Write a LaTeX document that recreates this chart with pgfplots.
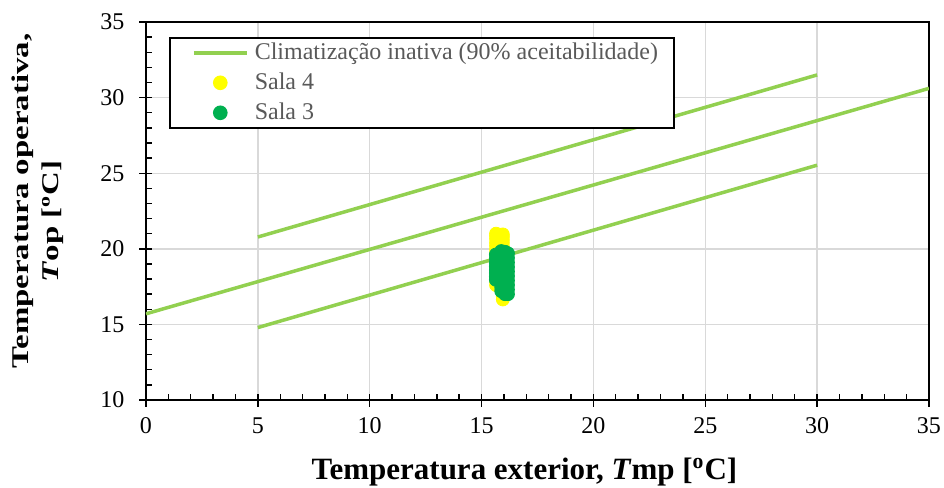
\documentclass[border=0pt]{standalone}
\usepackage{fontspec}
\setmainfont{Liberation Serif}
\usepackage{pgfplots}
\usepackage{pgfplotstable}
\pgfplotsset{compat=1.18}
\definecolor{lgreen}{HTML}{92D050}
\definecolor{sgreen}{HTML}{00B050}
\definecolor{syellow}{HTML}{FFFF00}
\definecolor{legtext}{HTML}{595959}
\definecolor{gridc}{HTML}{D9D9D9}

\pgfplotstableread{
x y
15.65 17.6
15.65 17.85
15.65 18.1
15.65 18.3
15.65 18.55
15.65 18.8
15.65 19.0
15.65 19.25
15.65 19.5
15.65 19.7
15.65 19.95
15.65 20.2
15.65 20.4
15.65 20.65
15.65 20.85
15.65 21.0
15.95 16.65
15.95 16.85
15.95 17.1
15.95 17.3
15.95 17.55
15.95 17.8
15.95 18.05
15.95 18.3
15.95 18.5
15.95 18.75
15.95 19.0
15.95 19.2
15.95 19.45
15.95 19.7
15.95 19.9
15.95 20.15
15.95 20.4
15.95 20.6
15.95 20.8
15.95 20.95
}\salafour

\pgfplotstableread{
x y
15.64 17.95
15.64 18.15
15.64 18.4
15.64 18.6
15.64 18.85
15.64 19.1
15.64 19.35
15.64 19.62
15.88 17.2
15.88 17.45
15.88 17.7
15.88 17.95
15.88 18.2
15.88 18.45
15.88 18.7
15.88 18.95
15.88 19.2
15.88 19.45
15.88 19.65
15.88 19.85
16.05 17.0
16.05 17.25
16.05 17.5
16.05 17.75
16.05 18.0
16.05 18.25
16.05 18.5
16.05 18.75
16.05 19.0
16.05 19.25
16.05 19.5
16.05 19.8
16.18 17.0
16.18 17.3
16.18 17.6
16.18 17.9
16.18 18.2
16.18 18.5
16.18 18.8
16.18 19.1
16.18 19.4
16.18 19.7
}\salatres

\begin{document}
\begin{tikzpicture}
\begin{axis}[
  scale only axis, width=391.5pt, height=189pt,
  xmin=0, xmax=35, ymin=10, ymax=35,
  xtick={0,5,...,35}, ytick={10,15,...,35},
  minor x tick num=4, minor y tick num=4,
  tick pos=left,
  tick align=center, major tick length=6.5pt, minor tick length=3pt,
  minor x tick style={yshift=1.5pt}, minor y tick style={xshift=1.5pt},
  grid=major, major grid style={gridc, line width=0.7pt},
  minor grid style={draw=none},
  axis line style={black, line width=0.7pt},
  tick style={black, line width=0.7pt},
  ticklabel style={font=\fontsize{12}{14}\selectfont},
  /pgf/number format/assume math mode=true,
  xticklabel style={yshift=-2pt},
  yticklabel style={xshift=-4pt},
  every axis x label/.style={at={(axis description cs:0.5,0)}, anchor=base, xshift=-6.5pt, yshift=-39.5pt, inner sep=0pt, font=\fontsize{15.5}{18}\selectfont\bfseries},
  every axis y label/.style={at={(axis description cs:0,0.5)}, xshift=-69.5pt, yshift=5pt, rotate=90, anchor=north, inner sep=0pt, font=\fontsize{12}{15}\selectfont\bfseries},
  xlabel={Temperatura exterior, \textit{T}mp [\textsuperscript{o}C]},
  ylabel={\scalebox{1.37}[1]{\begin{tabular}{@{}c@{}}Temperatura operativa,\\\textit{T}op [\textsuperscript{o}C]\hspace*{15pt}\end{tabular}}},
  legend style={at={(axis description cs:0,1)}, xshift=11.5pt, yshift=-7.5pt, anchor=north west,
    draw=black, line width=0.8pt, font=\fontsize{12}{14}\selectfont, text=legtext,
    inner xsep=8pt, inner ysep=0pt, row sep=0pt, column sep=0pt,
    nodes={inner sep=0pt, minimum height=15pt, anchor=west}},
  legend cell align=left,
]
\addplot[lgreen, line width=1.75pt, legend image code/.code={\path[draw=none,fill=none] (0pt,-2pt) rectangle (34.5pt,2pt); \draw[lgreen, line width=1.75pt] (4pt,0pt) -- (30.5pt,0pt);}] coordinates {(0,15.7) (35,30.61)};
\addlegendentry{Climatização inativa (90\% aceitabilidade)}
\addplot[lgreen, line width=1.75pt, forget plot] coordinates {(5,20.78) (30,31.5)};
\addplot[lgreen, line width=1.75pt, forget plot] coordinates {(5,14.79) (30,25.53)};
\addplot[only marks, mark=*, mark size=3.25pt, mark options={fill=syellow, draw=syellow}, legend image code/.code={\path[draw=none,fill=none] (0pt,-2pt) rectangle (34.5pt,2pt); \fill[syellow] (17.25pt,0pt) circle[radius=3.25pt];}] table[x=x,y=y] {\salafour};
\addlegendentry{Sala 4}
\addplot[only marks, mark=*, mark size=3.25pt, mark options={fill=sgreen, draw=sgreen}, legend image code/.code={\path[draw=none,fill=none] (0pt,-2pt) rectangle (34.5pt,2pt); \fill[sgreen] (17.25pt,0pt) circle[radius=3.25pt];}] table[x=x,y=y] {\salatres};
\addlegendentry{Sala 3}
\end{axis}
\pgfresetboundingbox
\path (current axis.south west) ++(-73pt,-44pt) rectangle ++(472pt,244pt);
\end{tikzpicture}
\end{document}
